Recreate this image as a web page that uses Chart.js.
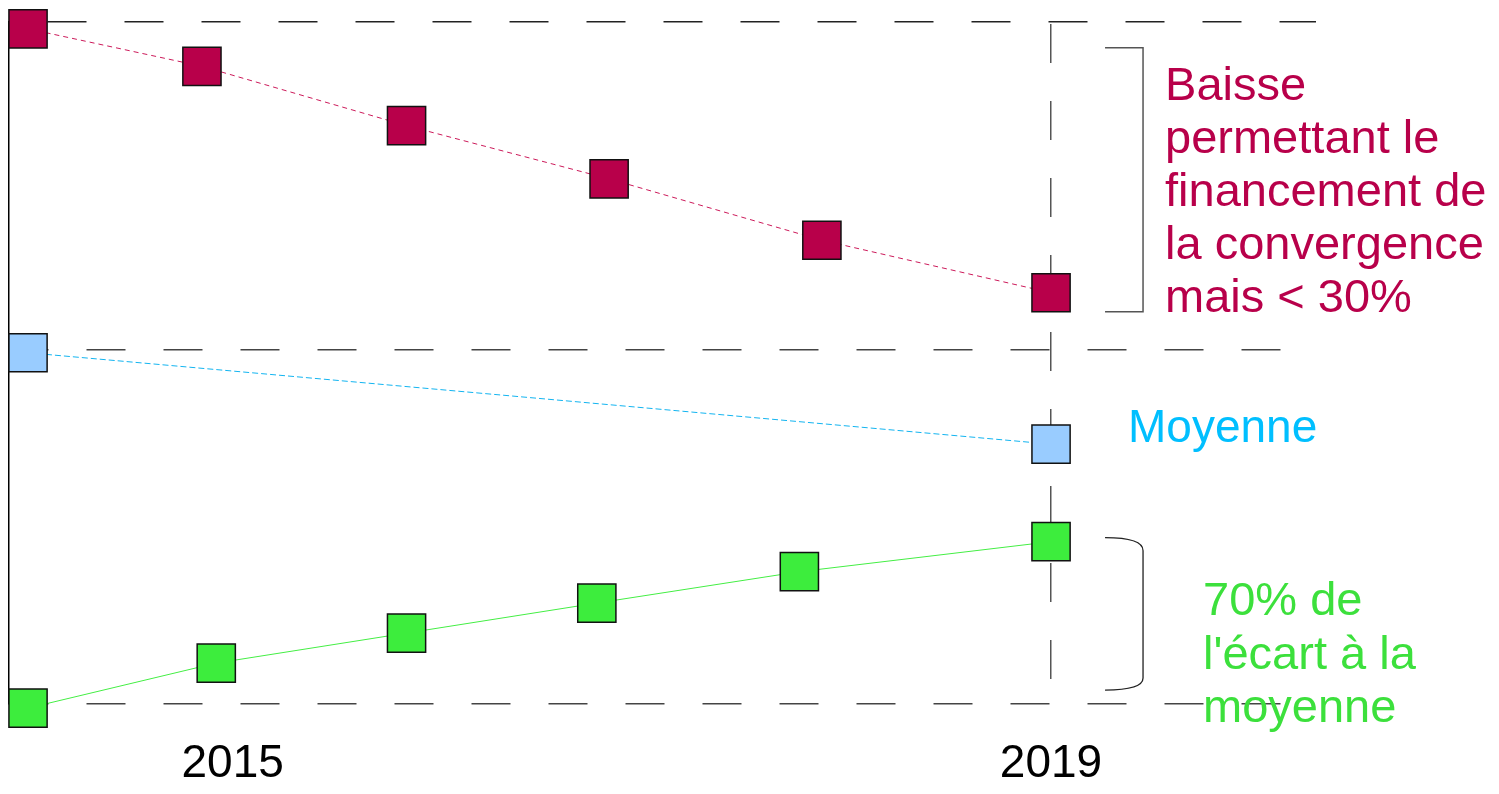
<!DOCTYPE html>
<html>
<head>
<meta charset="utf-8">
<script src="https://cdn.jsdelivr.net/npm/chart.js@4.4.0/dist/chart.umd.min.js"></script>
<style>
  html, body { margin: 0; padding: 0; background: #fff; }
  #wrap { width: 1499px; height: 794px; }
</style>
</head>
<body>
<div id="wrap"><canvas id="chart" width="1499" height="794"></canvas></div>
<script>
// rich regions: cut down step by step until 2019
var redYears = [2014, 2014.85, 2015.85, 2016.84, 2017.88, 2019];
var redValues = [99, 93.5, 84.8, 77, 68, 60.3];
// national average
var meanYears = [2014, 2019];
var meanValues = [51.5, 38.1];
// poor regions: catching up 70% of the gap
var greenYears = [2014, 2014.92, 2015.85, 2016.78, 2017.77, 2019];
var greenValues = [-0.6, 6, 10.4, 14.8, 19.4, 23.8];

var yearTicks = [2015, 2019];
var levelTicks = [0, 52, 100];
var markerYear = 2019;

var redNote = ["Baisse", "permettant le", "financement de", "la convergence", "mais < 30%"];
var meanNote = ["Moyenne"];
var greenNote = ["70% de", "l'écart à la", "moyenne"];

var FONT = "'Liberation Sans', Arial, sans-serif";
var RED = '#b8004a', BLUE_TXT = '#00bfff', BLUE = '#99ccff', GREEN = '#3ded3d', GREEN_TXT = '#3ce03c';

function toPoints(xs, ys) {
    return xs.map(function (x, i) { return { x: x, y: ys[i] }; });
}

function series(label, xs, ys, fill, line, dash) {
    return {
        label: label,
        data: toPoints(xs, ys),
        borderColor: line,
        borderWidth: 1,
        borderDash: dash,
        backgroundColor: fill,
        pointStyle: 'rect',
        pointRadius: 27,
        pointBackgroundColor: fill,
        pointBorderColor: '#111',
        pointBorderWidth: 1.5,
        tension: 0,
        clip: false
    };
}

// side notes and brackets
var notesPlugin = {
    id: 'notes',
    afterDraw: function (chart) {
        var ctx = chart.ctx;
        var xs = chart.scales.x, ys = chart.scales.y;
        var xr = xs.getPixelForValue(markerYear);
        var half = 19;

        ctx.save();
        // bracket beside the red series
        var rTop = ys.getPixelForValue(redValues[0]) + half;
        var rBot = ys.getPixelForValue(redValues[redValues.length - 1]) + half;
        ctx.strokeStyle = '#555';
        ctx.lineWidth = 1.5;
        ctx.beginPath();
        ctx.moveTo(xr + 54, rTop);
        ctx.lineTo(xr + 92, rTop);
        ctx.lineTo(xr + 92, rBot);
        ctx.lineTo(xr + 54, rBot);
        ctx.stroke();

        // rounded bracket beside the green series
        var gTop = ys.getPixelForValue(greenValues[greenValues.length - 1]) - 4;
        var gBot = ys.getPixelForValue(greenValues[0]) - 18;
        ctx.strokeStyle = '#222';
        ctx.lineWidth = 1.3;
        ctx.beginPath();
        ctx.moveTo(xr + 54, gTop);
        ctx.bezierCurveTo(xr + 80, gTop, xr + 92, gTop + 4, xr + 92, gTop + 13);
        ctx.lineTo(xr + 92, gBot - 12);
        ctx.bezierCurveTo(xr + 92, gBot - 4, xr + 80, gBot, xr + 54, gBot);
        ctx.stroke();

        ctx.textAlign = 'left';
        ctx.textBaseline = 'alphabetic';
        ctx.font = '47px ' + FONT;
        ctx.fillStyle = RED;
        redNote.forEach(function (t, i) { ctx.fillText(t, xr + 114, 100 + i * 53); });
        ctx.font = '46px ' + FONT;
        ctx.fillStyle = BLUE_TXT;
        meanNote.forEach(function (t, i) { ctx.fillText(t, xr + 77, 442 + i * 53); });
        ctx.font = '47px ' + FONT;
        ctx.fillStyle = GREEN_TXT;
        greenNote.forEach(function (t, i) { ctx.fillText(t, xr + 152, 615 + i * 53.5); });
        ctx.restore();
    }
};

new Chart(document.getElementById('chart').getContext('2d'), {
    type: 'line',
    data: {
        datasets: [
            series('Baisse', redYears, redValues, RED, '#cc1a5a', [5, 4]),
            series('Moyenne', meanYears, meanValues, BLUE, '#12b4f0', [6, 3]),
            series('Convergence', greenYears, greenValues, GREEN, '#44ee44', [])
        ]
    },
    options: {
        responsive: false,
        animation: false,
        events: [],
        layout: { autoPadding: false, padding: { top: 22, right: 183, left: 0, bottom: 0 } },
        plugins: {
            legend: { display: false },
            tooltip: { enabled: false }
        },
        scales: {
            x: {
                type: 'linear',
                min: 2013.907,
                max: 2020.295,
                afterBuildTicks: function (scale) {
                    scale.ticks = yearTicks.map(function (v) { return { value: v }; });
                },
                afterFit: function (scale) { scale.height = 90; },
                ticks: {
                    padding: 33,
                    color: '#000',
                    font: { family: FONT, size: 46 },
                    callback: function (v) { return String(v); }
                },
                grid: {
                    drawTicks: false,
                    tickLength: 0,
                    lineWidth: 1.5,
                    color: function (c) {
                        return c.tick && c.tick.value === markerYear ? '#555' : 'rgba(0,0,0,0)';
                    }
                },
                border: { display: false, dash: [39, 38], dashOffset: 75 }
            },
            y: {
                min: 0,
                max: 100,
                afterBuildTicks: function (scale) {
                    scale.ticks = levelTicks.map(function (v) { return { value: v }; });
                },
                afterFit: function (scale) { scale.width = 9; },
                ticks: { display: false },
                grid: {
                    drawTicks: false,
                    tickLength: 0,
                    lineWidth: 1.5,
                    color: function (c) {
                        return c.tick && c.tick.value === 100 ? '#222' : '#444';
                    }
                },
                border: {
                    display: true,
                    color: '#000',
                    width: 1.5,
                    dash: [39, 38],
                    dashOffset: function (c) {
                        return c.tick && c.tick.value === 100 ? 39 : 0;
                    }
                }
            }
        }
    },
    plugins: [notesPlugin]
});
</script>
</body>
</html>
